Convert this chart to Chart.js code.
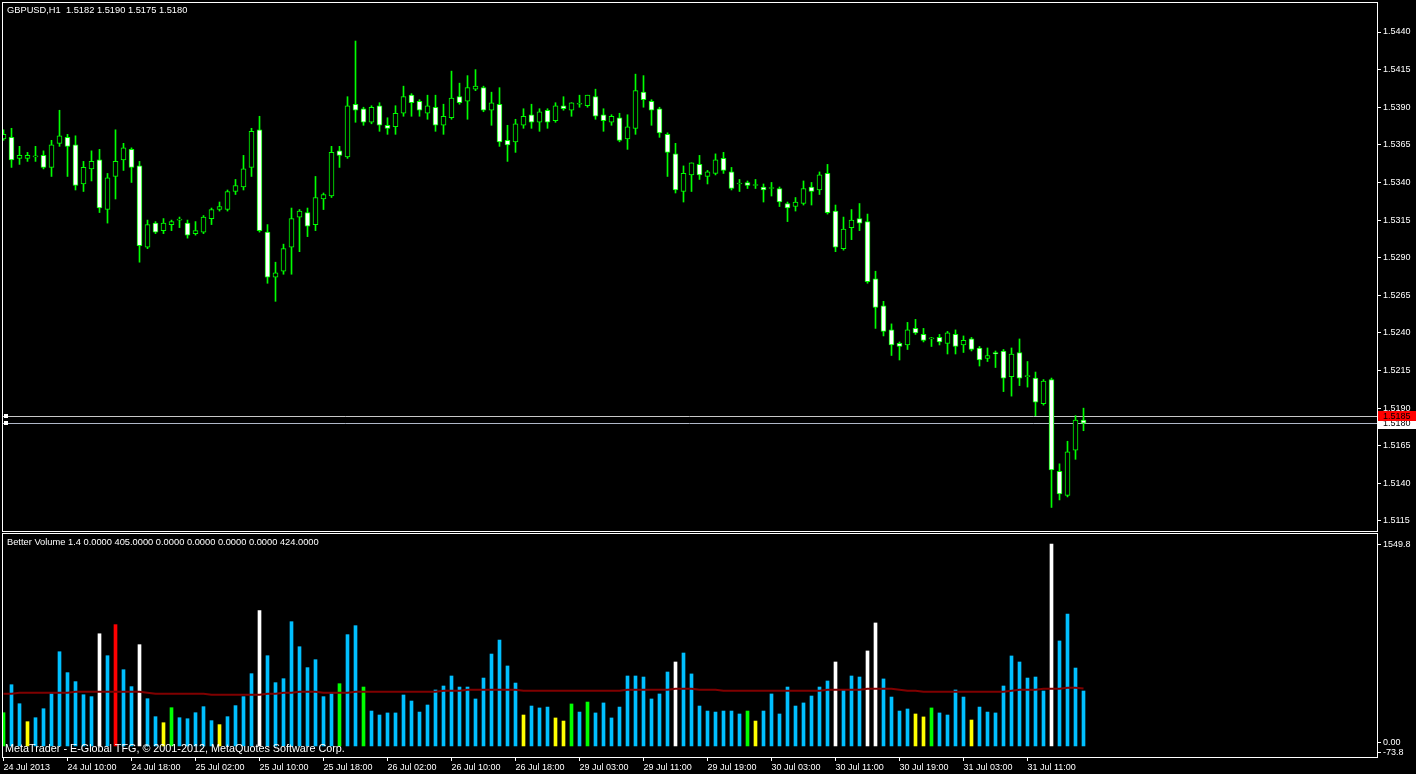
<!DOCTYPE html>
<html><head><meta charset="utf-8">
<script src="https://cdn.jsdelivr.net/npm/chart.js@4.4.1/dist/chart.umd.min.js"></script>
<style>
html,body{margin:0;padding:0;background:#000;width:1416px;height:774px;overflow:hidden;}
canvas{position:absolute;left:0;}
#c1{top:0;}
#c2{top:532px;}
.t{position:absolute;color:#fff;font-family:'Liberation Sans',Arial,sans-serif;font-size:9.3px;white-space:pre;line-height:12px;}
</style></head><body>
<canvas id="c1" width="1416" height="532"></canvas>
<canvas id="c2" width="1416" height="242"></canvas>
<div class="t" style="left:7px;top:4px">GBPUSD,H1  1.5182 1.5190 1.5175 1.5180</div>
<div class="t" style="left:7px;top:536px">Better Volume 1.4 0.0000 405.0000 0.0000 0.0000 0.0000 0.0000 424.0000</div>
<div class="t" style="left:5px;top:742px;font-size:10.8px">MetaTrader - E-Global TFG, © 2001-2012, MetaQuotes Software Corp.</div>
<script>
// ---------- DATA ----------
const opens = [1.5369,1.5370,1.5356,1.5356,1.5357,1.5358,1.5350,1.5366,1.5370,1.5365,
1.5339,1.5349,1.5355,1.5322,1.5344,1.5355,1.5362,1.5351,1.5297,1.5313,
1.5308,1.5312,1.5315,1.5313,1.5306,1.5307,1.5316,1.5322,1.5322,1.5334,
1.5337,1.5350,1.5375,1.5307,1.5277,1.5281,1.5297,1.5317,1.5320,1.5312,
1.5329,1.5331,1.5361,1.5357,1.5392,1.5389,1.5380,1.5391,1.5378,1.5377,
1.5386,1.5398,1.5394,1.5386,1.5390,1.5378,1.5383,1.5397,1.5394,1.5402,
1.5403,1.5388,1.5392,1.5368,1.5367,1.5378,1.5385,1.5380,1.5388,1.5381,
1.5391,1.5388,1.5392,1.5391,1.5397,1.5385,1.5380,1.5383,1.5369,1.5376,
1.5400,1.5394,1.5389,1.5372,1.5359,1.5334,1.5345,1.5352,1.5344,1.5346,
1.5356,1.5347,1.5339,1.5340,1.5338,1.5337,1.5336,1.5336,1.5326,1.5324,
1.5326,1.5337,1.5335,1.5346,1.5321,1.5296,1.5310,1.5316,1.5314,1.5276,
1.5258,1.5242,1.5233,1.5232,1.5243,1.5239,1.5236,1.5237,1.5233,1.5239,
1.5232,1.5236,1.5230,1.5223,1.5227,1.5228,1.5211,1.5227,1.5211,1.5210,
1.5193,1.5209,1.5148,1.5132,1.5162,1.5182];
const highs = [1.5375,1.5376,1.5364,1.5360,1.5364,1.5361,1.5368,1.5388,1.5372,1.5371,
1.5354,1.5361,1.5362,1.5346,1.5375,1.5366,1.5363,1.5354,1.5315,1.5314,
1.5316,1.5315,1.5317,1.5315,1.5314,1.5318,1.5323,1.5327,1.5335,1.5342,
1.5358,1.5376,1.5384,1.5312,1.5287,1.5299,1.5323,1.5322,1.5323,1.5344,
1.5333,1.5364,1.5364,1.5397,1.5434,1.5390,1.5391,1.5393,1.5383,1.5391,
1.5404,1.5399,1.5395,1.5398,1.5398,1.5392,1.5414,1.5406,1.5411,1.5415,
1.5404,1.5400,1.5403,1.5378,1.5382,1.5389,1.5392,1.5389,1.5389,1.5393,
1.5397,1.5393,1.5398,1.5398,1.5402,1.5389,1.5385,1.5386,1.5385,1.5412,
1.5411,1.5395,1.5390,1.5373,1.5366,1.5351,1.5353,1.5358,1.5348,1.5359,
1.5360,1.5350,1.5342,1.5341,1.5342,1.5339,1.5340,1.5337,1.5327,1.5330,
1.5341,1.5340,1.5347,1.5352,1.5325,1.5317,1.5322,1.5326,1.5319,1.5281,
1.5261,1.5246,1.5234,1.5247,1.5249,1.5243,1.5237,1.5239,1.5241,1.5242,
1.5238,1.5237,1.5231,1.5230,1.5228,1.5229,1.5230,1.5236,1.5221,1.5214,
1.5209,1.5210,1.5153,1.5168,1.5185,1.5190];
const lows = [1.5368,1.5350,1.5352,1.5354,1.5354,1.5349,1.5344,1.5364,1.5344,1.5335,
1.5334,1.5341,1.5320,1.5313,1.5329,1.5348,1.5340,1.5287,1.5296,1.5306,
1.5306,1.5308,1.5310,1.5303,1.5305,1.5306,1.5312,1.5321,1.5321,1.5332,
1.5335,1.5344,1.5307,1.5273,1.5261,1.5279,1.5279,1.5294,1.5304,1.5308,
1.5322,1.5330,1.5350,1.5356,1.5380,1.5378,1.5379,1.5374,1.5372,1.5372,
1.5384,1.5384,1.5384,1.5382,1.5374,1.5372,1.5382,1.5392,1.5382,1.5401,
1.5387,1.5378,1.5364,1.5354,1.5360,1.5376,1.5376,1.5374,1.5376,1.5380,
1.5388,1.5384,1.5390,1.5390,1.5382,1.5374,1.5378,1.5367,1.5362,1.5372,
1.5390,1.5378,1.5370,1.5344,1.5333,1.5327,1.5334,1.5342,1.5339,1.5345,
1.5346,1.5335,1.5334,1.5336,1.5336,1.5327,1.5331,1.5324,1.5314,1.5321,
1.5325,1.5325,1.5332,1.5319,1.5294,1.5295,1.5302,1.5308,1.5273,1.5243,
1.5238,1.5225,1.5222,1.5229,1.5239,1.5234,1.5231,1.5232,1.5226,1.5226,
1.5227,1.5228,1.5218,1.5221,1.5217,1.5201,1.5198,1.5205,1.5204,1.5185,
1.5192,1.5124,1.5129,1.5131,1.5156,1.5175];
const closes = [1.5372,1.5355,1.5358,1.5358,1.5357,1.5350,1.5365,1.5371,1.5364,1.5338,
1.5350,1.5354,1.5323,1.5343,1.5354,1.5363,1.5350,1.5298,1.5312,1.5307,
1.5313,1.5314,1.5315,1.5305,1.5308,1.5317,1.5322,1.5324,1.5334,1.5338,
1.5349,1.5374,1.5308,1.5277,1.5280,1.5296,1.5316,1.5321,1.5311,1.5330,
1.5332,1.5360,1.5358,1.5391,1.5388,1.5380,1.5390,1.5378,1.5376,1.5386,
1.5397,1.5393,1.5388,1.5391,1.5378,1.5384,1.5396,1.5393,1.5403,1.5404,
1.5388,1.5393,1.5367,1.5365,1.5379,1.5384,1.5380,1.5387,1.5380,1.5391,
1.5389,1.5393,1.5392,1.5398,1.5384,1.5381,1.5384,1.5368,1.5377,1.5401,
1.5395,1.5388,1.5373,1.5360,1.5335,1.5346,1.5353,1.5345,1.5347,1.5355,
1.5348,1.5336,1.5339,1.5338,1.5338,1.5335,1.5336,1.5327,1.5323,1.5327,
1.5336,1.5334,1.5345,1.5320,1.5297,1.5309,1.5315,1.5313,1.5274,1.5257,
1.5241,1.5232,1.5231,1.5242,1.5240,1.5235,1.5236,1.5234,1.5240,1.5231,
1.5235,1.5229,1.5222,1.5225,1.5226,1.5210,1.5226,1.5210,1.5211,1.5194,
1.5208,1.5149,1.5133,1.5161,1.5182,1.5180];
const volumes = [236,454,306,166,197,267,384,711,548,478,
376,361,851,680,922,571,439,766,345,205,
158,275,197,189,236,283,174,143,205,291,
361,540,1031,680,470,501,945,750,587,649,
361,384,462,844,914,436,249,218,234,234,
374,327,241,296,413,444,522,436,436,343,
506,693,802,600,467,218,288,273,280,195,
171,304,241,319,234,312,195,280,522,522,
514,343,382,553,631,701,538,288,249,241,
249,249,226,249,171,249,382,226,436,288,
312,366,436,483,631,413,522,514,717,935,
499,358,249,265,226,203,273,234,218,413,
358,179,280,241,234,444,678,631,506,514,
405,1549.8,795,1005,584,405];
const volumeKinds = ('gbbybbbbbb'+'bbwbrbbwbb'+'ygbbbbbybb'+'bbwbbbbbbb'+'bbgbbgbbbb'+
  'bbbbbbbbbb'+'bbbbbybbby'+'ygbgbbbbbb'+'bbbbwbbbbb'+'bbbgybbbbb'+
  'bbbbwbbbww'+'bbbbyygbbb'+'bybbbbbbbb'+'bwbbbb').split('');
const volumeAverage = [384,384,392,392,392,392,392,392,392,400,
400,400,400,400,400,400,400,400,392,384,
384,384,384,384,384,384,376,376,376,376,
376,376,376,384,384,392,392,400,400,400,
392,392,392,392,400,400,400,400,400,400,
400,400,400,400,400,407,407,407,415,415,
415,415,415,415,415,407,407,407,407,407,
407,407,407,407,407,407,407,407,415,415,
415,415,415,415,423,423,423,415,415,415,
407,407,407,407,407,407,407,407,407,407,
407,407,407,415,415,415,415,415,423,423,
423,423,415,407,407,400,400,400,400,400,
400,400,400,400,400,400,407,415,415,415,
423,423,423,431,431,424];
const priceTicks = [1.5115,1.5140,1.5165,1.5190,1.5215,1.5240,1.5265,1.5290,1.5315,1.5340,1.5365,1.5390,1.5415,1.5440];
const volumeTicks = [1549.8, 0, -73.8];
const volumeTickLabels = ['1549.8','0.00','-73.8'];
const dateTickBars = [0,8,16,24,32,40,48,56,64,72,80,88,96,104,112,120,128];
const dateTickLabels = ['24 Jul 2013','24 Jul 10:00','24 Jul 18:00','25 Jul 02:00','25 Jul 10:00','25 Jul 18:00',
 '26 Jul 02:00','26 Jul 10:00','26 Jul 18:00','29 Jul 03:00','29 Jul 11:00','29 Jul 19:00',
 '30 Jul 03:00','30 Jul 11:00','30 Jul 19:00','31 Jul 03:00','31 Jul 11:00'];
const askPrice = 1.5185;
const bidPrice = 1.5180;

// ---------- STYLE / LAYOUT ----------
const FONT = {family:"'Liberation Sans', Arial, sans-serif", size:9};
const X_MIN = -0.1875, X_MAX = 171.6875;
const PRICE_MIN = 1.510835, PRICE_MAX = 1.545994;
const VOL_MIN = -109.1, VOL_MAX = 1635.9;
const kindColor = {b:'#00bfff', g:'#00ff00', y:'#ffff00', r:'#ff0000', w:'#ffffff'};

const framePlugin = {
  id:'frame',
  afterDraw(chart){
    const {ctx, chartArea:a} = chart;
    ctx.save();
    ctx.strokeStyle = '#ffffff'; ctx.lineWidth = 1;
    ctx.strokeRect(a.left+0.5, a.top+0.5, a.right-a.left, a.bottom-a.top);
    ctx.restore();
  }
};
const priceLinePlugin = {
  id:'priceLines',
  beforeDatasetsDraw(chart){
    const {ctx, chartArea:a, scales:{y}} = chart;
    ctx.save();
    const yb = Math.round(y.getPixelForValue(bidPrice))+0.5;
    const ya = Math.round(y.getPixelForValue(askPrice))+0.5;
    ctx.lineWidth = 1;
    ctx.strokeStyle = '#b0b8c8';
    ctx.beginPath(); ctx.moveTo(a.left, yb); ctx.lineTo(a.right, yb); ctx.stroke();
    ctx.strokeStyle = '#c8c8c8';
    ctx.beginPath(); ctx.moveTo(a.left, ya); ctx.lineTo(a.right, ya); ctx.stroke();
    ctx.fillStyle = '#ffffff';
    ctx.fillRect(a.left+2, ya-2.5, 4, 4);
    ctx.fillRect(a.left+2, yb-2.5, 4, 4);
    ctx.restore();
  },
  afterDraw(chart){
    const {ctx, chartArea:a, scales:{y}} = chart;
    ctx.save();
    const yb = Math.round(y.getPixelForValue(bidPrice));
    const ya = Math.round(y.getPixelForValue(askPrice));
    ctx.font = "9px 'Liberation Sans', Arial, sans-serif";
    ctx.textBaseline = 'middle';
    ctx.fillStyle = '#ffffff';
    ctx.fillRect(a.right+1, yb-5, 38, 11);
    ctx.fillStyle = '#000000';
    ctx.fillText(bidPrice.toFixed(4), a.right+6, yb+1);
    ctx.fillStyle = '#ff0000';
    ctx.fillRect(a.right+1, ya-5, 38, 10);
    ctx.fillStyle = '#000000';
    ctx.fillText(askPrice.toFixed(4), a.right+6, ya+1);
    ctx.restore();
  }
};

Chart.defaults.animation = false;
Chart.defaults.font.family = FONT.family;

const wickData = lows.map((l,i)=>({x:i, y:[l, highs[i]]}));
const bodyData = opens.map((o,i)=>({x:i, y:[o, closes[i]]}));
const bodyColors = opens.map((o,i)=> closes[i] < o ? '#ffffff' : '#000000');

new Chart(document.getElementById('c1'), {
  type:'bar',
  data:{datasets:[
    {data:bodyData, backgroundColor:bodyColors, borderColor:'#00ff00', borderWidth:1, borderSkipped:false,
     barThickness:5, minBarLength:1, grouped:false, order:1},
    {data:wickData, backgroundColor:'#00ff00', borderWidth:0, barThickness:1, grouped:false, order:2}
  ]},
  options:{
    responsive:false, devicePixelRatio:1,
    layout:{padding:{left:2, top:2, right:0, bottom:1}},
    plugins:{legend:{display:false}, tooltip:{enabled:false}},
    events:[],
    scales:{
      x:{type:'linear', min:X_MIN, max:X_MAX, offset:false, grid:{offset:false}, display:false},
      y:{type:'linear', position:'right', min:PRICE_MIN, max:PRICE_MAX,
        afterFit(s){ s.width = 39; s.paddingTop = 0; s.paddingBottom = 0; },
        afterBuildTicks(s){ s.ticks = priceTicks.map(v=>({value:v})); },
        ticks:{color:'#ffffff', font:FONT, padding:2, autoSkip:false, callback:(v)=>Number(v).toFixed(4)},
        grid:{drawOnChartArea:false, drawTicks:true, tickLength:4, color:'#ffffff'},
        border:{display:false}}
    }
  },
  plugins:[priceLinePlugin, framePlugin]
});

new Chart(document.getElementById('c2'), {
  type:'bar',
  data:{datasets:[
    {type:'line', data:volumeAverage.map((v,i)=>({x:i,y:v})), borderColor:'#800000', borderWidth:2,
     pointRadius:0, tension:0, order:1},
    {type:'bar', data:volumes.map((v,i)=>({x:i,y:v})), backgroundColor:volumeKinds.map(k=>kindColor[k]),
     borderWidth:0, barThickness:3, base:-23, grouped:false, order:2}
  ]},
  options:{
    responsive:false, devicePixelRatio:1,
    layout:{padding:{left:2, top:1, right:0, bottom:0}},
    plugins:{legend:{display:false}, tooltip:{enabled:false}},
    events:[],
    scales:{
      x:{type:'linear', position:'bottom', min:X_MIN, max:X_MAX, offset:false,
        afterFit(s){ s.height = 17; s.paddingLeft = 0; s.paddingRight = 0; },
        afterBuildTicks(s){ s.ticks = dateTickBars.map(v=>({value:v})); },
        ticks:{color:'#ffffff', font:FONT, align:'start', maxRotation:0, minRotation:0, autoSkip:false, padding:1,
          callback:(v,i)=>dateTickLabels[i]},
        grid:{drawOnChartArea:false, drawTicks:true, tickLength:4, color:'#ffffff', offset:false},
        border:{display:false}},
      y:{type:'linear', position:'right', min:VOL_MIN, max:VOL_MAX,
        afterFit(s){ s.width = 39; s.paddingTop = 0; s.paddingBottom = 0; },
        afterBuildTicks(s){ s.ticks = volumeTicks.map(v=>({value:v})); },
        ticks:{color:'#ffffff', font:FONT, padding:2, autoSkip:false, callback:(v,i)=>volumeTickLabels[i]},
        grid:{drawOnChartArea:false, drawTicks:true, tickLength:4, color:'#ffffff'},
        border:{display:false}}
    }
  },
  plugins:[framePlugin]
});
</script>
</body></html>
